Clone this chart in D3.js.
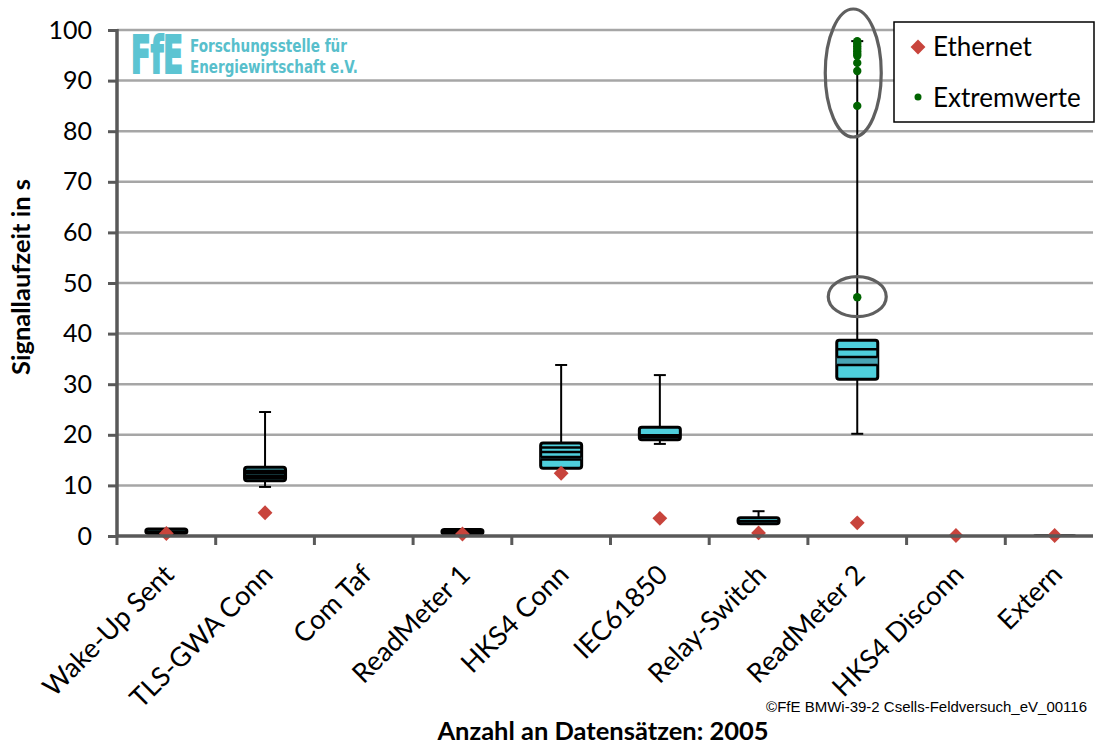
<!DOCTYPE html>
<html>
<head>
<meta charset="utf-8">
<script src="https://cdn.jsdelivr.net/npm/d3@7"></script>
<style>
  body { margin: 0; background: #fff; }
  svg { display: block; }
</style>
</head>
<body>
<div id="chart"></div>
<script>
// Data

var categories = ["Wake-Up Sent", "TLS-GWA Conn", "Com Taf", "ReadMeter 1", "HKS4 Conn",
                  "IEC61850", "Relay-Switch", "ReadMeter 2", "HKS4 Disconn", "Extern"];

var whiskerLow  = [null, 9.7, null, null, null, 18.2, null, 20.2, null, null];
var whiskerHigh = [null, 24.5, null, null, 33.8, 31.8, 4.9, 97.8, null, null];
var q1 = [0.5, 10.9, null, 0.4, 13.4, 19.0, 2.4, 31.0, null, 0.0];
var q3 = [1.4, 13.6, null, 1.3, 18.4, 21.5, 3.6, 38.7, null, 0.25];
var innerLines = [[0.9], [11.4, 11.9, 12.4, 12.9], [], [0.8], [15.1, 15.6, 16.6, 17.5],
                  [19.5, 19.9], [2.9], [33.8, 35.4, 36.9], [], []];
var darkBand = [null, null, null, null, [15.1, 15.6], null, null, [33.8, 35.4], null, null];

var ethernet = [0.5, 4.6, null, 0.4, 12.4, 3.5, 0.6, 2.6, 0.1, 0.1];

var extremCategory = "ReadMeter 2";
var extremValues = [97.8, 97.3, 96.8, 96.3, 95.8, 95.3, 94.9, 93.5, 91.9, 85.0, 47.2];

// rings drawn around the extreme values (centre values)
var ringCenters = [91.5, 47.3];

var yTicks = [0, 10, 20, 30, 40, 50, 60, 70, 80, 90, 100];

// Set up the chart
var svgWidth = 1099;
var svgHeight = 745;
var font = "Lato, 'Open Sans', sans-serif";
var logoFont = "'DejaVu Sans Condensed', 'DejaVu Sans', sans-serif";

var svg = d3.select("#chart")
  .append("svg")
  .attr("width", svgWidth)
  .attr("height", svgHeight);

var x = d3.scaleBand()
  .domain(categories)
  .range([117, 1104]);

var y = d3.scaleLinear()
  .domain([0, 100])
  .range([536, 30]);

var plotRight = 1093;
var boxW = 41;

// gridlines
svg.append("g")
  .selectAll("line")
  .data(yTicks.filter(d => d > 0))
  .enter()
  .append("line")
  .attr("x1", 117)
  .attr("x2", plotRight)
  .attr("y1", d => y(d))
  .attr("y2", d => y(d))
  .attr("stroke", "#a6a6a6")
  .attr("stroke-width", 2.5);

// logo
var logo = svg.append("g");
logo.append("text")
  .attr("transform", "translate(131, 73) scale(1, 1.45)")
  .attr("font-family", logoFont)
  .attr("font-weight", "bold")
  .attr("font-size", 36)
  .attr("textLength", 52)
  .attr("lengthAdjust", "spacingAndGlyphs")
  .attr("fill", "#5cc4d2")
  .attr("stroke", "#5cc4d2")
  .attr("stroke-width", 1.5)
  .text("FfE");
logo.append("text")
  .attr("x", 190)
  .attr("y", 52)
  .attr("font-family", logoFont)
  .attr("font-weight", "bold")
  .attr("font-size", 18)
  .attr("textLength", 157)
  .attr("lengthAdjust", "spacingAndGlyphs")
  .attr("fill", "#58bfcc")
  .text("Forschungsstelle für");
logo.append("text")
  .attr("x", 190)
  .attr("y", 73)
  .attr("font-family", logoFont)
  .attr("font-weight", "bold")
  .attr("font-size", 18)
  .attr("textLength", 168)
  .attr("lengthAdjust", "spacingAndGlyphs")
  .attr("fill", "#58bfcc")
  .text("Energiewirtschaft e.V.");

// box plots
var boxData = categories.map(function(c, i) {
  return {
    cat: c, lo: whiskerLow[i], hi: whiskerHigh[i], q1: q1[i], q3: q3[i],
    lines: innerLines[i], dark: darkBand[i]
  };
});

var boxes = svg.append("g")
  .selectAll("g")
  .data(boxData.filter(d => d.q1 !== null))
  .enter()
  .append("g")
  .attr("transform", d => `translate(${x(d.cat) + x.bandwidth() / 2}, 0)`);

// whiskers
boxes.filter(d => d.hi !== null)
  .append("line")
  .attr("x1", 0).attr("x2", 0)
  .attr("y1", d => y(d.hi))
  .attr("y2", d => y(d.lo !== null ? d.lo : d.q1))
  .attr("stroke", "#000")
  .attr("stroke-width", 2);
boxes.filter(d => d.hi !== null)
  .append("line")
  .attr("x1", -6).attr("x2", 6)
  .attr("y1", d => y(d.hi)).attr("y2", d => y(d.hi))
  .attr("stroke", "#000")
  .attr("stroke-width", 2);
boxes.filter(d => d.lo !== null)
  .append("line")
  .attr("x1", -6).attr("x2", 6)
  .attr("y1", d => y(d.lo)).attr("y2", d => y(d.lo))
  .attr("stroke", "#000")
  .attr("stroke-width", 2);

boxes.append("rect")
  .attr("x", -boxW / 2)
  .attr("width", boxW)
  .attr("y", d => y(d.q3))
  .attr("height", d => Math.max(0.5, y(d.q1) - y(d.q3)))
  .attr("rx", 2.5)
  .attr("fill", "#4ecfdc")
  .attr("stroke", d => d.cat === "Extern" ? "#444" : "#000")
  .attr("stroke-width", d => d.cat === "Extern" ? 1.5 : 3);

boxes.filter(d => d.dark !== null)
  .append("rect")
  .attr("x", -boxW / 2)
  .attr("width", boxW)
  .attr("y", d => y(d.dark[1]))
  .attr("height", d => y(d.dark[0]) - y(d.dark[1]))
  .attr("fill", "#48a4b4");

boxes.selectAll(".inner")
  .data(d => d.lines)
  .enter()
  .append("line")
  .attr("class", "inner")
  .attr("x1", -boxW / 2).attr("x2", boxW / 2)
  .attr("y1", d => y(d)).attr("y2", d => y(d))
  .attr("stroke", "#000")
  .attr("stroke-width", 2.5);

// rings around extreme values
svg.append("g")
  .selectAll("ellipse")
  .data(ringCenters)
  .enter()
  .append("ellipse")
  .attr("cx", (d, i) => x(extremCategory) + x.bandwidth() / 2 + (i === 0 ? -4 : 0))
  .attr("cy", d => y(d))
  .attr("rx", (d, i) => i === 0 ? 28 : 29)
  .attr("ry", (d, i) => i === 0 ? 64 : 20)
  .attr("fill", "none")
  .attr("stroke", "#5f5f5f")
  .attr("stroke-width", 3.2);

// extreme values
svg.append("g")
  .selectAll("circle")
  .data(extremValues)
  .enter()
  .append("circle")
  .attr("cx", x(extremCategory) + x.bandwidth() / 2)
  .attr("cy", d => y(d))
  .attr("r", 4.2)
  .attr("fill", "#006400");

// Ethernet markers
var diamond = d3.symbol().type(d3.symbolDiamond2).size(140);
svg.append("g")
  .selectAll("path")
  .data(categories.map((c, i) => ({ cat: c, v: ethernet[i] })).filter(d => d.v !== null))
  .enter()
  .append("path")
  .attr("d", diamond)
  .attr("transform", d => `translate(${x(d.cat) + x.bandwidth() / 2}, ${y(d.v)})`)
  .attr("fill", "#c8443c");

// axes
svg.append("line")
  .attr("x1", 117).attr("x2", 117)
  .attr("y1", y(100) - 1).attr("y2", y(0) + 1)
  .attr("stroke", "#595959")
  .attr("stroke-width", 3.5);
svg.append("line")
  .attr("x1", 117).attr("x2", plotRight)
  .attr("y1", y(0)).attr("y2", y(0))
  .attr("stroke", "#595959")
  .attr("stroke-width", 3.5);

var leftAxis = d3.axisLeft(y).tickValues(yTicks).tickSize(9).tickPadding(16);
var yAxisG = svg.append("g")
  .attr("transform", "translate(117, 0)")
  .call(leftAxis);
yAxisG.select(".domain").remove();
yAxisG.selectAll(".tick line").attr("stroke", "#595959").attr("stroke-width", 3);
yAxisG.selectAll(".tick text")
  .attr("font-family", font)
  .attr("font-size", 25)
  .attr("fill", "#000");

// x ticks at the band edges
svg.append("g")
  .selectAll("line")
  .data(d3.range(categories.length + 1))
  .enter()
  .append("line")
  .attr("x1", i => x.range()[0] + i * x.step())
  .attr("x2", i => x.range()[0] + i * x.step())
  .attr("y1", y(0))
  .attr("y2", y(0) + 9)
  .attr("stroke", "#595959")
  .attr("stroke-width", 3);

// x labels
svg.append("g")
  .selectAll("text")
  .data(categories)
  .enter()
  .append("text")
  .attr("transform", d => `translate(${x(d) + x.bandwidth() / 2 - 4}, 563) rotate(-45)`)
  .attr("text-anchor", "end")
  .attr("dy", "0.7em")
  .attr("font-family", font)
  .attr("font-size", 27)
  .attr("fill", "#000")
  .text(d => d);

// axis titles
svg.append("text")
  .attr("transform", "translate(30, 277) rotate(-90)")
  .attr("text-anchor", "middle")
  .attr("font-family", font)
  .attr("font-weight", "bold")
  .attr("font-size", 25.5)
  .text("Signallaufzeit in s");

svg.append("text")
  .attr("x", 603)
  .attr("y", 740)
  .attr("text-anchor", "middle")
  .attr("font-family", font)
  .attr("font-weight", "bold")
  .attr("font-size", 25.5)
  .text("Anzahl an Datensätzen: 2005");

svg.append("text")
  .attr("x", 1087)
  .attr("y", 712)
  .attr("text-anchor", "end")
  .attr("font-family", "'Liberation Sans', Arial, sans-serif")
  .attr("font-size", 15)
  .text("©FfE BMWi-39-2 Csells-Feldversuch_eV_00116");

// legend
var legend = svg.append("g");
legend.append("rect")
  .attr("x", 894).attr("y", 22)
  .attr("width", 200).attr("height", 100)
  .attr("fill", "#fff")
  .attr("stroke", "#000")
  .attr("stroke-width", 1.5);
legend.append("path")
  .attr("d", diamond)
  .attr("transform", "translate(918, 47)")
  .attr("fill", "#c8443c");
legend.append("circle")
  .attr("cx", 918).attr("cy", 97)
  .attr("r", 3.5)
  .attr("fill", "#006400");
legend.selectAll("text.lg")
  .data(["Ethernet", "Extremwerte"])
  .enter()
  .append("text")
  .attr("class", "lg")
  .attr("x", 933)
  .attr("y", (d, i) => 56 + i * 51)
  .attr("font-family", font)
  .attr("font-size", 26)
  .text(d => d);
</script>
</body>
</html>
